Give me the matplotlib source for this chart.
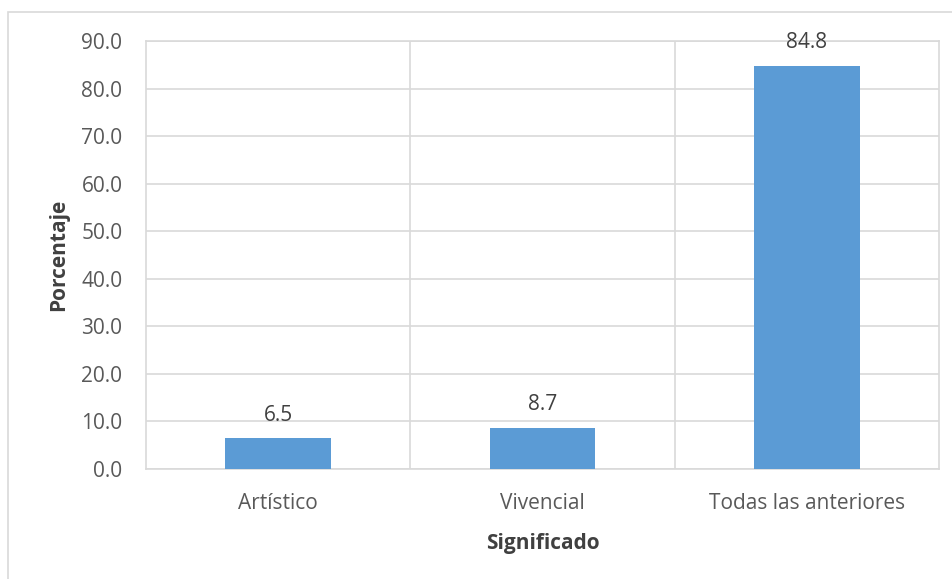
import matplotlib.pyplot as plt
from matplotlib.patches import Rectangle
import numpy as np

categories = ['Artístico', 'Vivencial', 'Todas las anteriores']
values = [6.5, 8.7, 84.8]
yticks = [0, 10, 20, 30, 40, 50, 60, 70, 80, 90]

plt.rcParams['font.family'] = ['Open Sans', 'DejaVu Sans']
grid_color = '#d9d9d9'
text_color = '#595959'

fig = plt.figure(figsize=(9.52, 5.79), dpi=100)
# outer chart frame
fig.patches.append(Rectangle((8 / 952, -0.01), 1.0, 1 - 12 / 579 + 0.01,
                             transform=fig.transFigure, fill=False,
                             edgecolor=grid_color, linewidth=1.2))

ax = fig.add_axes([146 / 952, 1 - 469 / 579, (939 - 146) / 952, (469 - 41) / 579])
x = np.arange(len(categories))
ax.bar(x, values, width=0.4, color='#5b9bd5', zorder=3)
for xi, v in zip(x, values):
    ax.text(xi, v + 2.6, f'{v:.1f}', ha='center', va='bottom',
            fontsize=15, color='#404040')

ax.set_xlim(-0.5, len(categories) - 0.5)
ax.set_ylim(0, 90)
ax.set_yticks(yticks)
ax.set_yticklabels([f'{t:.1f}' for t in yticks], fontsize=15, color=text_color)
ax.set_xticks(x)
ax.set_xticklabels(categories, fontsize=15, color=text_color)
ax.tick_params(length=0)
ax.tick_params(axis='y', pad=17)
ax.tick_params(axis='x', pad=17)

ax.grid(axis='y', color=grid_color, linewidth=1.2, zorder=0)
for b in np.arange(0.5, len(categories) - 0.5, 1):
    ax.axvline(b, color=grid_color, linewidth=1.2, zorder=0)
for s in ax.spines.values():
    s.set_color(grid_color)
    s.set_linewidth(1.2)

ax.set_ylabel('Porcentaje', fontsize=15, fontweight='bold', color='#404040', labelpad=9)
ax.set_xlabel('Significado', fontsize=15, fontweight='bold', color='#404040', labelpad=14)

fig.savefig('out.png', dpi=100)
